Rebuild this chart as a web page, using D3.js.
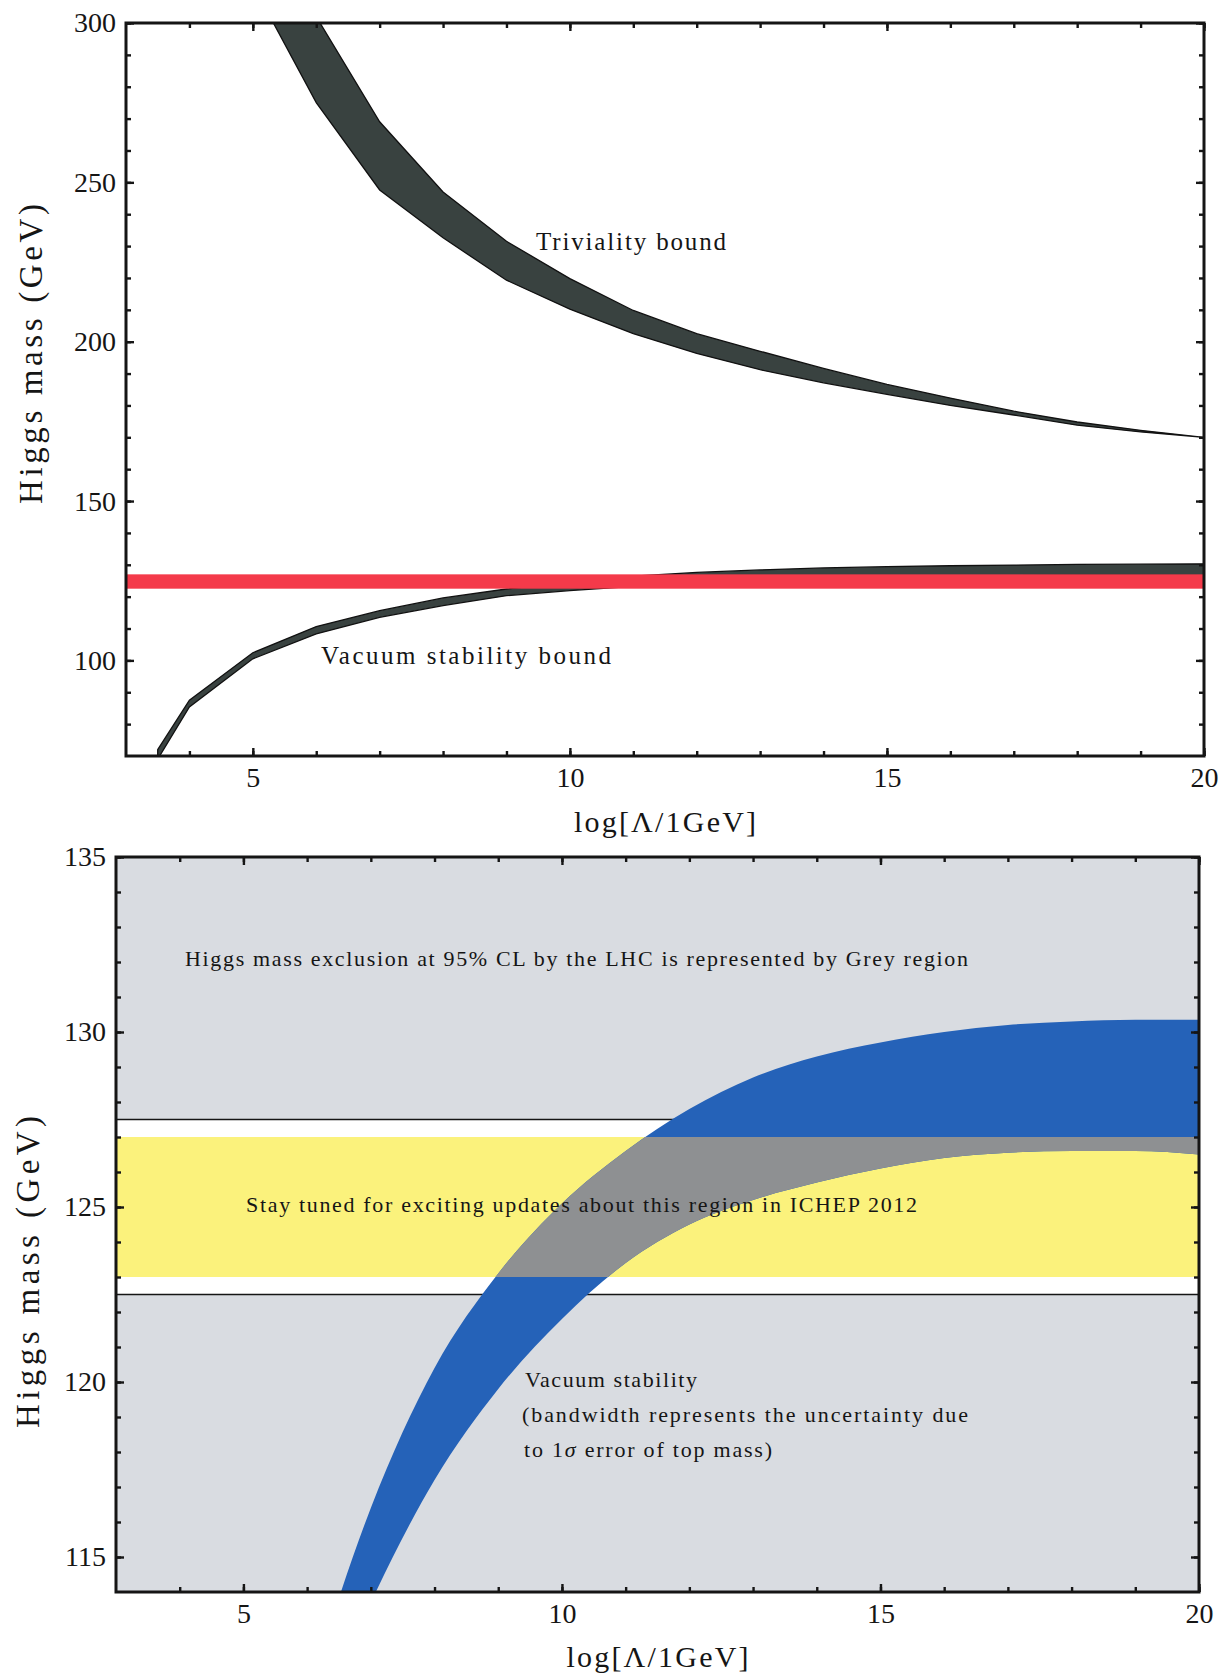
<!DOCTYPE html>
<html>
<head>
<meta charset="utf-8">
<script src="https://cdn.jsdelivr.net/npm/d3@7"></script>
<style>
body { margin: 0; background: #fff; }
svg text { font-family: "Liberation Serif", "DejaVu Serif", serif; fill: #151515; }
</style>
</head>
<body>
<svg id="chart" width="1226" height="1678"></svg>
<script>
// ---- data ----
// upper panel: triviality band (log Lambda vs Higgs mass, GeV)
var trivX = [5, 6, 7, 8, 9, 10, 11, 12, 13, 14, 15, 16, 17, 18, 19, 20];
var trivUpper = [345, 302, 269, 247, 231.5, 219.8, 209.8, 202.5, 197, 191.6, 186.6, 182.3, 178.2, 174.8, 172.2, 170];
var trivLower = [312, 275, 247.6, 232.6, 219.3, 210.2, 202.5, 196.3, 191.2, 187.1, 183.5, 180, 177, 173.8, 171.7, 170];

// upper panel: vacuum stability band
var vacX = [3.5, 4, 5, 6, 7, 8, 9, 10, 11, 12, 13, 14, 15, 16, 17, 18, 19, 20];
var vacUpper = [72, 87.5, 102.4, 110.6, 115.6, 119.6, 122.4, 124.6, 126.4, 127.6, 128.4, 129, 129.4, 129.7, 129.9, 130.1, 130.2, 130.3];
var vacLower = [69, 85.4, 100.5, 108.3, 113.5, 117.2, 120.3, 121.9, 123.2, 124.3, 125.1, 125.7, 126.1, 126.4, 126.6, 126.7, 126.7, 126.6];

// measured Higgs mass band (red)
var higgsBand = [122.5, 127];

// lower panel: vacuum stability band (1 sigma top mass)
var stabX = [6, 7, 8, 9, 10, 11, 12, 13, 14, 15, 16, 17, 18, 19, 20];
var stabUpper = [111, 116.4, 120.4, 123.1, 125.1, 126.6, 127.8, 128.7, 129.3, 129.7, 130, 130.2, 130.3, 130.35, 130.35];
var stabLower = [109.5, 113.7, 117.2, 119.8, 121.8, 123.4, 124.5, 125.2, 125.7, 126.1, 126.4, 126.55, 126.6, 126.6, 126.5];

// lower panel: allowed window and "stay tuned" band
var allowedWindow = [122.5, 127.5];
var tunedBand = [123, 127];

// axes
var xDomain = [3, 20];
var xMajorTicks = [5, 10, 15, 20];
var topYDomain = [70, 300];
var topYTicks = [100, 150, 200, 250, 300];
var bottomYDomain = [114, 135];
var bottomYTicks = [115, 120, 125, 130, 135];

(function () {
'use strict';

var svg = d3.select("#chart");
var defs = svg.append("defs");

function makePanel(name, box, yDomain) {
    var x = d3.scaleLinear().domain(xDomain).range([box.left, box.right]);
    var y = d3.scaleLinear().domain(yDomain).range([box.bottom, box.top]);

    defs.append("clipPath").attr("id", "clip-" + name)
        .append("rect")
        .attr("x", box.left).attr("y", box.top)
        .attr("width", box.right - box.left)
        .attr("height", box.bottom - box.top);

    var g = svg.append("g").attr("class", "panel panel--" + name);
    var plot = g.append("g").attr("clip-path", "url(#clip-" + name + ")");
    return { g: g, plot: plot, x: x, y: y, box: box, name: name };
}

function range(a, b, step) {
    return d3.range(a, b + step / 2, step);
}

function styleAxis(sel) {
    sel.select(".domain").remove();
    sel.selectAll("line").attr("stroke", "#151515").attr("stroke-width", 2.4);
    sel.attr("font-family", null);
    sel.selectAll("text")
        .attr("font-size", 28)
        .attr("fill", "#151515");
}

function drawAxes(p, yMinor, yMajor) {
    var box = p.box;
    var xMinor = range(xDomain[0] + 1, xDomain[1], 1);
    var MAJOR = -8, MINOR = -5;

    // bottom + top
    p.g.append("g").attr("transform", "translate(0," + box.bottom + ")")
        .call(d3.axisBottom(p.x).tickValues(xMinor).tickSize(MINOR).tickFormat(""))
        .call(styleAxis);
    p.g.append("g").attr("transform", "translate(0," + box.bottom + ")")
        .call(d3.axisBottom(p.x).tickValues(xMajorTicks).tickSize(MAJOR).tickPadding(11))
        .call(styleAxis);
    p.g.append("g").attr("transform", "translate(0," + box.top + ")")
        .call(d3.axisTop(p.x).tickValues(xMinor).tickSize(MINOR).tickFormat(""))
        .call(styleAxis);
    p.g.append("g").attr("transform", "translate(0," + box.top + ")")
        .call(d3.axisTop(p.x).tickValues(xMajorTicks).tickSize(MAJOR).tickFormat(""))
        .call(styleAxis);

    // left + right
    p.g.append("g").attr("transform", "translate(" + box.left + ",0)")
        .call(d3.axisLeft(p.y).tickValues(yMinor).tickSize(MINOR).tickFormat(""))
        .call(styleAxis);
    p.g.append("g").attr("transform", "translate(" + box.left + ",0)")
        .call(d3.axisLeft(p.y).tickValues(yMajor).tickSize(MAJOR).tickPadding(10))
        .call(styleAxis);
    p.g.append("g").attr("transform", "translate(" + box.right + ",0)")
        .call(d3.axisRight(p.y).tickValues(yMinor).tickSize(MINOR).tickFormat(""))
        .call(styleAxis);
    p.g.append("g").attr("transform", "translate(" + box.right + ",0)")
        .call(d3.axisRight(p.y).tickValues(yMajor).tickSize(MAJOR).tickFormat(""))
        .call(styleAxis);

    p.g.append("rect")
        .attr("x", box.left).attr("y", box.top)
        .attr("width", box.right - box.left)
        .attr("height", box.bottom - box.top)
        .attr("fill", "none")
        .attr("stroke", "#151515")
        .attr("stroke-width", 3);
}

function bandArea(p, xs, upper, lower, curve) {
    return d3.area()
        .curve(curve)
        .x(function (i) { return p.x(xs[i]); })
        .y0(function (i) { return p.y(lower[i]); })
        .y1(function (i) { return p.y(upper[i]); })(d3.range(xs.length));
}

function hBand(p, sel, lo, hi, fill) {
    return sel.append("rect")
        .attr("x", p.box.left)
        .attr("width", p.box.right - p.box.left)
        .attr("y", p.y(hi))
        .attr("height", p.y(lo) - p.y(hi))
        .attr("fill", fill);
}

function label(sel, str, x, y, width, size) {
    return sel.append("text")
        .attr("x", x).attr("y", y)
        .attr("font-size", size)
        .attr("textLength", width)
        .attr("lengthAdjust", "spacing")
        .text(str);
}

function axisTitles(p, xLabelY, yLabelX, yLabelY, yLen) {
    var cx = (p.box.left + p.box.right) / 2;
    p.g.append("text")
        .attr("x", cx).attr("y", xLabelY)
        .attr("text-anchor", "middle")
        .attr("font-size", 30)
        .attr("textLength", 182)
        .attr("lengthAdjust", "spacing")
        .text("log[\u039B/1GeV]");
    p.g.append("text")
        .attr("transform", "translate(" + yLabelX + "," + yLabelY + ") rotate(-90)")
        .attr("text-anchor", "middle")
        .attr("font-size", 33)
        .attr("textLength", yLen)
        .attr("lengthAdjust", "spacing")
        .text("Higgs mass (GeV)");
}

// ---------------- upper panel ----------------
var top = makePanel("top", { left: 126, right: 1204, top: 23, bottom: 756 }, topYDomain);

top.plot.append("path")
    .attr("d", bandArea(top, trivX, trivUpper, trivLower, d3.curveLinear))
    .attr("fill", "#394240")
    .attr("stroke", "#111")
    .attr("stroke-width", 1.3);

top.plot.append("path")
    .attr("d", bandArea(top, vacX, vacUpper, vacLower, d3.curveLinear))
    .attr("fill", "#394240")
    .attr("stroke", "#111")
    .attr("stroke-width", 1.3);

hBand(top, top.plot, higgsBand[0], higgsBand[1], "#f43a4a");

label(top.g, "Triviality bound", 536, 250, 190, 25);
label(top.g, "Vacuum stability bound", 321, 664, 290, 25);

drawAxes(top, range(80, 300, 10), topYTicks);
axisTitles(top, 832, 42, 354, 300);

// ---------------- lower panel ----------------
var bot = makePanel("bottom", { left: 116, right: 1199, top: 857, bottom: 1592 }, bottomYDomain);

hBand(bot, bot.plot, bottomYDomain[0], bottomYDomain[1], "#d9dce1");
hBand(bot, bot.plot, allowedWindow[0], allowedWindow[1], "#ffffff");
allowedWindow.forEach(function (v) {
    bot.plot.append("line")
        .attr("x1", bot.box.left).attr("x2", bot.box.right)
        .attr("y1", bot.y(v)).attr("y2", bot.y(v))
        .attr("stroke", "#151515")
        .attr("stroke-width", 1.6);
});
hBand(bot, bot.plot, tunedBand[0], tunedBand[1], "#fbf27c");

var stabPath = bandArea(bot, stabX, stabUpper, stabLower, d3.curveMonotoneX);
bot.plot.append("path").attr("d", stabPath).attr("fill", "#2562b8");

defs.append("clipPath").attr("id", "clip-tuned")
    .append("rect")
    .attr("x", bot.box.left)
    .attr("width", bot.box.right - bot.box.left)
    .attr("y", bot.y(tunedBand[1]))
    .attr("height", bot.y(tunedBand[0]) - bot.y(tunedBand[1]));
bot.plot.append("path")
    .attr("d", stabPath)
    .attr("clip-path", "url(#clip-tuned)")
    .attr("fill", "#8e9092");

label(bot.g, "Higgs mass exclusion at 95% CL by the LHC is represented by Grey region", 185, 966, 783, 22);
label(bot.g, "Stay tuned for exciting updates about this region in ICHEP 2012", 246, 1212, 671, 22);
label(bot.g, "Vacuum stability", 525, 1387, 172, 22);
label(bot.g, "(bandwidth represents the uncertainty due", 522, 1422, 446, 22);
var sig = bot.g.append("text")
    .attr("x", 524).attr("y", 1457)
    .attr("font-size", 22)
    .attr("textLength", 248)
    .attr("lengthAdjust", "spacing");
sig.append("tspan").text("to 1");
sig.append("tspan").attr("font-style", "italic").text("\u03C3");
sig.append("tspan").text(" error of top mass)");

drawAxes(bot, range(115, 135, 1), bottomYTicks);
axisTitles(bot, 1667, 39, 1272, 312);
})();
</script>
</body>
</html>
